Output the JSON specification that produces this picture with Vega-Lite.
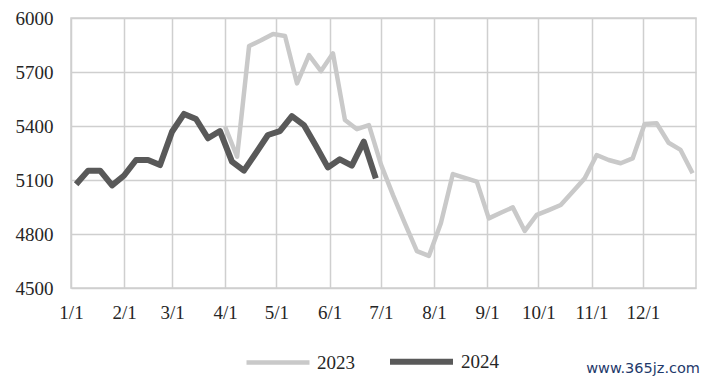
{
  "$schema": "https://vega.github.io/schema/vega-lite/v6.json",
  "width": 625,
  "height": 270,
  "autosize": "none",
  "padding": {"left": 71, "top": 18, "right": 13, "bottom": 98},
  "background": "#ffffff",
  "config": {
    "view": {"stroke": "#cfcfcf", "strokeWidth": 1.5},
    "font": "Liberation Serif"
  },
  "title": {
    "text": "www.365jz.com",
    "orient": "bottom",
    "anchor": "end",
    "frame": "group",
    "font": "DejaVu Sans",
    "fontSize": 14.5,
    "fontWeight": "normal",
    "color": "#1f3a6b",
    "offset": -12,
    "dx": 4
  },
  "data": {
    "values": [
      {"series": "2023", "date": "2023-04-01", "value": 5396},
      {"series": "2023", "date": "2023-04-08", "value": 5229},
      {"series": "2023", "date": "2023-04-15", "value": 5844},
      {"series": "2023", "date": "2023-04-22", "value": 5876},
      {"series": "2023", "date": "2023-04-29", "value": 5911},
      {"series": "2023", "date": "2023-05-06", "value": 5900},
      {"series": "2023", "date": "2023-05-13", "value": 5637},
      {"series": "2023", "date": "2023-05-20", "value": 5794},
      {"series": "2023", "date": "2023-05-27", "value": 5705},
      {"series": "2023", "date": "2023-06-03", "value": 5804},
      {"series": "2023", "date": "2023-06-10", "value": 5433},
      {"series": "2023", "date": "2023-06-17", "value": 5382},
      {"series": "2023", "date": "2023-06-24", "value": 5405},
      {"series": "2023", "date": "2023-07-01", "value": 5187},
      {"series": "2023", "date": "2023-07-08", "value": 5017},
      {"series": "2023", "date": "2023-07-15", "value": 4859},
      {"series": "2023", "date": "2023-07-22", "value": 4705},
      {"series": "2023", "date": "2023-07-29", "value": 4678},
      {"series": "2023", "date": "2023-08-05", "value": 4860},
      {"series": "2023", "date": "2023-08-12", "value": 5133},
      {"series": "2023", "date": "2023-08-19", "value": 5112},
      {"series": "2023", "date": "2023-08-26", "value": 5091},
      {"series": "2023", "date": "2023-09-02", "value": 4887},
      {"series": "2023", "date": "2023-09-09", "value": 4918},
      {"series": "2023", "date": "2023-09-16", "value": 4948},
      {"series": "2023", "date": "2023-09-23", "value": 4817},
      {"series": "2023", "date": "2023-09-30", "value": 4906},
      {"series": "2023", "date": "2023-10-07", "value": 4933},
      {"series": "2023", "date": "2023-10-14", "value": 4961},
      {"series": "2023", "date": "2023-10-21", "value": 5035},
      {"series": "2023", "date": "2023-10-28", "value": 5109},
      {"series": "2023", "date": "2023-11-04", "value": 5239},
      {"series": "2023", "date": "2023-11-11", "value": 5211},
      {"series": "2023", "date": "2023-11-18", "value": 5193},
      {"series": "2023", "date": "2023-11-25", "value": 5220},
      {"series": "2023", "date": "2023-12-02", "value": 5411},
      {"series": "2023", "date": "2023-12-09", "value": 5415},
      {"series": "2023", "date": "2023-12-16", "value": 5307},
      {"series": "2023", "date": "2023-12-23", "value": 5267},
      {"series": "2023", "date": "2023-12-30", "value": 5137},
      {"series": "2024", "date": "2023-01-04", "value": 5076},
      {"series": "2024", "date": "2023-01-11", "value": 5152},
      {"series": "2024", "date": "2023-01-18", "value": 5152},
      {"series": "2024", "date": "2023-01-25", "value": 5070},
      {"series": "2024", "date": "2023-02-01", "value": 5125},
      {"series": "2024", "date": "2023-02-08", "value": 5211},
      {"series": "2024", "date": "2023-02-15", "value": 5211},
      {"series": "2024", "date": "2023-02-22", "value": 5183},
      {"series": "2024", "date": "2023-03-01", "value": 5368},
      {"series": "2024", "date": "2023-03-08", "value": 5467},
      {"series": "2024", "date": "2023-03-15", "value": 5439},
      {"series": "2024", "date": "2023-03-22", "value": 5332},
      {"series": "2024", "date": "2023-03-29", "value": 5372},
      {"series": "2024", "date": "2023-04-05", "value": 5202},
      {"series": "2024", "date": "2023-04-12", "value": 5152},
      {"series": "2024", "date": "2023-04-19", "value": 5250},
      {"series": "2024", "date": "2023-04-26", "value": 5350},
      {"series": "2024", "date": "2023-05-03", "value": 5372},
      {"series": "2024", "date": "2023-05-10", "value": 5455},
      {"series": "2024", "date": "2023-05-17", "value": 5405},
      {"series": "2024", "date": "2023-05-24", "value": 5290},
      {"series": "2024", "date": "2023-05-31", "value": 5170},
      {"series": "2024", "date": "2023-06-07", "value": 5215},
      {"series": "2024", "date": "2023-06-14", "value": 5180},
      {"series": "2024", "date": "2023-06-21", "value": 5313},
      {"series": "2024", "date": "2023-06-28", "value": 5109}
    ]
  },
  "mark": {"type": "line", "strokeJoin": "round", "strokeCap": "butt"},
  "encoding": {
    "x": {
      "field": "date",
      "type": "temporal",
      "scale": {
        "type": "utc",
        "domain": [
          {"year": 2023, "month": 1, "date": 1, "utc": true},
          {"year": 2024, "month": 1, "date": 1, "utc": true}
        ]
      },
      "axis": {
        "title": null,
        "values": [
          {"year": 2023, "month": 1, "date": 1, "utc": true},
          {"year": 2023, "month": 2, "date": 1, "utc": true},
          {"year": 2023, "month": 3, "date": 1, "utc": true},
          {"year": 2023, "month": 4, "date": 1, "utc": true},
          {"year": 2023, "month": 5, "date": 1, "utc": true},
          {"year": 2023, "month": 6, "date": 1, "utc": true},
          {"year": 2023, "month": 7, "date": 1, "utc": true},
          {"year": 2023, "month": 8, "date": 1, "utc": true},
          {"year": 2023, "month": 9, "date": 1, "utc": true},
          {"year": 2023, "month": 10, "date": 1, "utc": true},
          {"year": 2023, "month": 11, "date": 1, "utc": true},
          {"year": 2023, "month": 12, "date": 1, "utc": true}
        ],
        "format": "%-m/%-d",
        "grid": true,
        "gridColor": "#cfcfcf",
        "gridWidth": 1.5,
        "ticks": false,
        "domain": false,
        "labelFont": "Liberation Serif",
        "labelFontSize": 19,
        "labelColor": "#262626",
        "labelPadding": 15,
        "labelFlush": false,
        "labelOverlap": false
      }
    },
    "y": {
      "field": "value",
      "type": "quantitative",
      "scale": {"domain": [4500, 6000], "nice": false, "zero": false},
      "axis": {
        "title": null,
        "values": [4500, 4800, 5100, 5400, 5700, 6000],
        "format": "d",
        "grid": true,
        "gridColor": "#cfcfcf",
        "gridWidth": 1.5,
        "ticks": false,
        "domain": false,
        "labelFont": "Liberation Serif",
        "labelFontSize": 19,
        "labelColor": "#262626",
        "labelPadding": 18
      }
    },
    "color": {
      "field": "series",
      "type": "nominal",
      "scale": {"domain": ["2023", "2024"], "range": ["#c9c9c9", "#595959"]},
      "legend": {
        "title": null,
        "orient": "none",
        "direction": "horizontal",
        "legendX": 173,
        "legendY": 309,
        "symbolType": "stroke",
        "symbolSize": 3969,
        "labelFont": "Liberation Serif",
        "labelFontSize": 19,
        "labelColor": "#262626",
        "labelOffset": 5,
        "columnPadding": 23
      }
    },
    "strokeWidth": {
      "field": "series",
      "type": "nominal",
      "scale": {"domain": ["2023", "2024"], "range": [4.5, 6]},
      "legend": null
    }
  }
}
